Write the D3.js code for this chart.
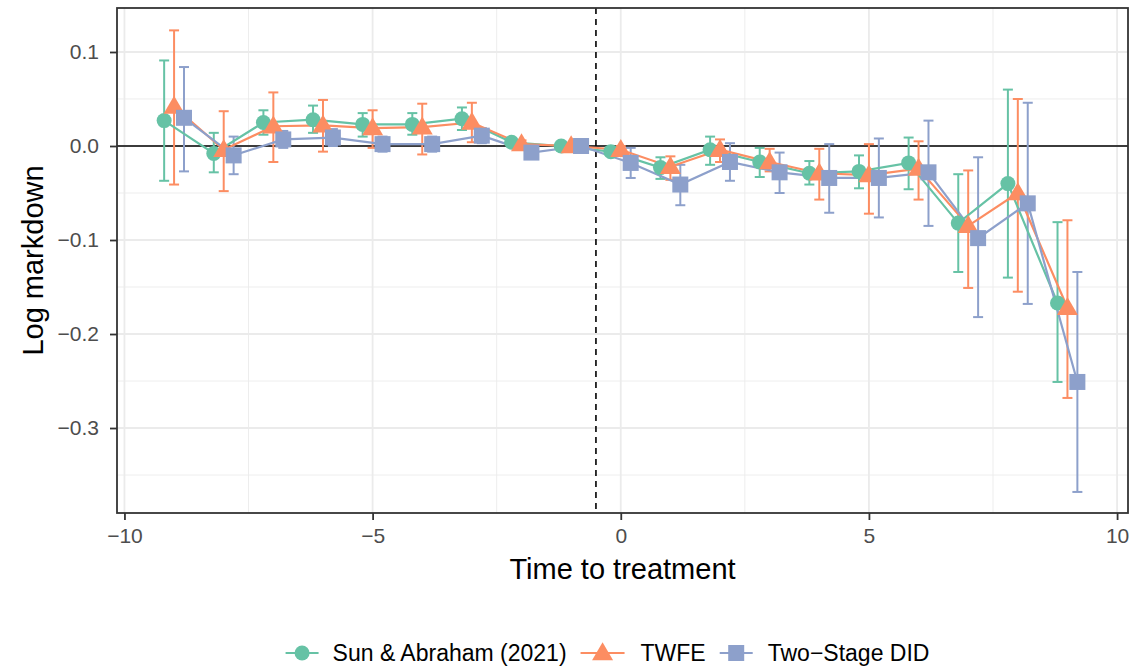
<!DOCTYPE html>
<html>
<head>
<meta charset="utf-8">
<script src="https://cdn.jsdelivr.net/npm/d3@7"></script>
<style>
  body { margin: 0; background: #fff; }
  svg text { font-family: "Liberation Sans", Arial, sans-serif; }
</style>
</head>
<body>
<svg id="chart" width="1133" height="667"></svg>
<script>
// event times
const times = [-9, -8, -7, -6, -5, -4, -3, -2, -1, 0, 1, 2, 3, 4, 5, 6, 7, 8, 9];

// Sun & Abraham (2021)
const saEst = [0.027, -0.008, 0.025, 0.028, 0.023, 0.023, 0.029, 0.004, 0, -0.006, -0.023, -0.004, -0.017, -0.029, -0.027, -0.018, -0.082, -0.040, -0.167];
const saLo  = [-0.037, -0.028, 0.012, 0.014, 0.010, 0.012, 0.017, 0.000, 0, -0.010, -0.035, -0.020, -0.033, -0.041, -0.045, -0.046, -0.134, -0.140, -0.251];
const saHi  = [0.091, 0.014, 0.038, 0.043, 0.035, 0.035, 0.041, 0.008, 0, -0.002, -0.012, 0.010, -0.002, -0.016, -0.010, 0.009, -0.030, 0.060, -0.081];

// TWFE
const twEst = [0.042, -0.004, 0.021, 0.022, 0.019, 0.020, 0.025, 0.002, 0, -0.004, -0.022, -0.004, -0.017, -0.029, -0.031, -0.024, -0.085, -0.050, -0.172];
const twLo  = [-0.041, -0.048, -0.017, -0.006, -0.002, -0.009, 0.004, -0.002, 0, -0.008, -0.036, -0.017, -0.027, -0.057, -0.072, -0.057, -0.151, -0.155, -0.268];
const twHi  = [0.123, 0.037, 0.057, 0.049, 0.038, 0.045, 0.046, 0.006, 0, 0.000, -0.011, 0.007, -0.003, -0.003, 0.002, 0.005, -0.026, 0.050, -0.079];

// Two-Stage DID
const tsEst = [0.030, -0.010, 0.007, 0.009, 0.002, 0.002, 0.011, -0.007, 0, -0.018, -0.041, -0.017, -0.028, -0.034, -0.034, -0.028, -0.098, -0.061, -0.251];
const tsLo  = [-0.027, -0.030, -0.002, 0.000, -0.006, -0.006, 0.003, -0.013, 0, -0.034, -0.063, -0.037, -0.050, -0.071, -0.076, -0.085, -0.182, -0.168, -0.368];
const tsHi  = [0.084, 0.010, 0.016, 0.018, 0.010, 0.010, 0.019, -0.001, 0, -0.002, -0.020, 0.003, -0.007, 0.002, 0.008, 0.027, -0.012, 0.046, -0.134];

const seriesNames = ['Sun & Abraham (2021)', 'TWFE', 'Two\u2212Stage DID'];
const seriesColors = ['#66C2A5', '#FC8D62', '#8DA0CB'];
const seriesShapes = ['circle', 'triangle', 'square'];
const dodge = [-0.2, 0, 0.2];

const xMajor = [-10, -5, 0, 5, 10];
const xMinor = [-7.5, -2.5, 2.5, 7.5];
const yMajor = [0.1, 0, -0.1, -0.2, -0.3];
const yMinor = [0.05, -0.05, -0.15, -0.25, -0.35];

const series = [
  { est: saEst, lo: saLo, hi: saHi },
  { est: twEst, lo: twLo, hi: twHi },
  { est: tsEst, lo: tsLo, hi: tsHi }
].map((s, i) => ({
  name: seriesNames[i],
  color: seriesColors[i],
  shape: seriesShapes[i],
  values: times.map((t, j) => ({ x: t + dodge[i], y: s.est[j], lo: s.lo[j], hi: s.hi[j] }))
}));

const svg = d3.select('#chart');
const panel = { left: 117, right: 1128, top: 8, bottom: 513 };

const x = d3.scaleLinear().domain([-10.15, 10.22]).range([panel.left, panel.right]);
const y = d3.scaleLinear().domain([-0.3904, 0.1468]).range([panel.bottom, panel.top]);

// grid
const grid = svg.append('g');
grid.selectAll('.xmin').data(xMinor).enter().append('line')
  .attr('x1', d => x(d)).attr('x2', d => x(d))
  .attr('y1', panel.top).attr('y2', panel.bottom)
  .attr('stroke', '#EBEBEB').attr('stroke-width', 0.9);
grid.selectAll('.ymin').data(yMinor).enter().append('line')
  .attr('y1', d => y(d)).attr('y2', d => y(d))
  .attr('x1', panel.left).attr('x2', panel.right)
  .attr('stroke', '#EBEBEB').attr('stroke-width', 0.9);
grid.selectAll('.xmaj').data(xMajor).enter().append('line')
  .attr('x1', d => x(d)).attr('x2', d => x(d))
  .attr('y1', panel.top).attr('y2', panel.bottom)
  .attr('stroke', '#EBEBEB').attr('stroke-width', 1.8);
grid.selectAll('.ymaj').data(yMajor).enter().append('line')
  .attr('y1', d => y(d)).attr('y2', d => y(d))
  .attr('x1', panel.left).attr('x2', panel.right)
  .attr('stroke', '#EBEBEB').attr('stroke-width', 1.8);

// reference lines
svg.append('line')
  .attr('x1', panel.left).attr('x2', panel.right)
  .attr('y1', y(0)).attr('y2', y(0))
  .attr('stroke', '#000').attr('stroke-width', 1.6);
svg.append('line')
  .attr('x1', x(-0.5)).attr('x2', x(-0.5))
  .attr('y1', panel.top).attr('y2', panel.bottom)
  .attr('stroke', '#000').attr('stroke-width', 1.6)
  .attr('stroke-dasharray', '6,5');

function drawShape(g, shape, color, cx, cy) {
  if (shape === 'circle') {
    g.append('circle').attr('cx', cx).attr('cy', cy).attr('r', 7.5).attr('fill', color);
  } else if (shape === 'triangle') {
    const w = 10.5, h = 18;
    g.append('path')
      .attr('d', `M${cx},${cy - h * 0.6}L${cx + w},${cy + h * 0.4}L${cx - w},${cy + h * 0.4}Z`)
      .attr('fill', color);
  } else {
    const s = 8;
    g.append('rect').attr('x', cx - s).attr('y', cy - s)
      .attr('width', 2 * s).attr('height', 2 * s).attr('fill', color);
  }
}

const line = d3.line().x(d => x(d.x)).y(d => y(d.y));
const capHalf = 5;

// error bars
series.forEach(s => {
  const g = svg.append('g').attr('stroke', s.color).attr('stroke-width', 2).attr('fill', 'none');
  s.values.forEach(d => {
    if (d.hi - d.lo <= 0) return;
    g.append('line').attr('x1', x(d.x)).attr('x2', x(d.x)).attr('y1', y(d.lo)).attr('y2', y(d.hi));
    g.append('line').attr('x1', x(d.x) - capHalf).attr('x2', x(d.x) + capHalf).attr('y1', y(d.lo)).attr('y2', y(d.lo));
    g.append('line').attr('x1', x(d.x) - capHalf).attr('x2', x(d.x) + capHalf).attr('y1', y(d.hi)).attr('y2', y(d.hi));
  });
});

// lines
series.forEach(s => {
  svg.append('path').datum(s.values)
    .attr('d', line)
    .attr('fill', 'none').attr('stroke', s.color).attr('stroke-width', 2.2);
});

// points
series.forEach(s => {
  const g = svg.append('g');
  s.values.forEach(d => drawShape(g, s.shape, s.color, x(d.x), y(d.y)));
});

// panel border
svg.append('rect')
  .attr('x', panel.left).attr('y', panel.top)
  .attr('width', panel.right - panel.left).attr('height', panel.bottom - panel.top)
  .attr('fill', 'none').attr('stroke', '#333333').attr('stroke-width', 1.8);

// axes
const xAxis = svg.append('g').attr('transform', `translate(0,${panel.bottom})`)
  .call(d3.axisBottom(x).tickValues(xMajor).tickSize(7).tickPadding(8)
    .tickFormat(d => d < 0 ? '\u2212' + Math.abs(d) : d));
const yAxis = svg.append('g').attr('transform', `translate(${panel.left},0)`)
  .call(d3.axisLeft(y).tickValues(yMajor).tickSize(7).tickPadding(11)
    .tickFormat(d => { const s = d3.format('.1f')(Math.abs(d)); return d < 0 ? '\u2212' + s : s; }));
[xAxis, yAxis].forEach(a => {
  a.select('.domain').remove();
  a.selectAll('.tick line').attr('stroke', '#333333').attr('stroke-width', 1.8);
  a.selectAll('.tick text').attr('fill', '#4D4D4D').style('font-size', '21px')
    .style('font-family', '"Liberation Sans", Arial, sans-serif');
});

// axis titles
svg.append('text')
  .attr('x', (panel.left + panel.right) / 2).attr('y', 579)
  .attr('text-anchor', 'middle').style('font-size', '29px').attr('fill', '#000')
  .text('Time to treatment');
svg.append('text')
  .attr('transform', `translate(43,${(panel.top + panel.bottom) / 2}) rotate(-90)`)
  .attr('text-anchor', 'middle').style('font-size', '29px').attr('fill', '#000')
  .text('Log markdown');

// legend: keys and labels laid out in a row, centred
const legend = svg.append('g');
const keyW = [33, 44, 33];
const keyGap = [14, 16, 15];
const itemGap = 14;
let cursor = 0;
series.forEach((s, i) => {
  const g = legend.append('g').attr('transform', `translate(${cursor},0)`);
  g.append('line').attr('x1', 0).attr('x2', keyW[i]).attr('y1', 0).attr('y2', 0)
    .attr('stroke', s.color).attr('stroke-width', 2.2);
  drawShape(g, s.shape, s.color, keyW[i] / 2, 0);
  const t = g.append('text').attr('x', keyW[i] + keyGap[i]).attr('y', 0).attr('dy', '0.35em')
    .style('font-size', '23px').attr('fill', '#000').text(s.name);
  cursor += keyW[i] + keyGap[i] + t.node().getComputedTextLength() + itemGap;
});
const legendWidth = cursor - itemGap;
legend.attr('transform', `translate(${607.5 - legendWidth / 2},653)`);
</script>
</body>
</html>
